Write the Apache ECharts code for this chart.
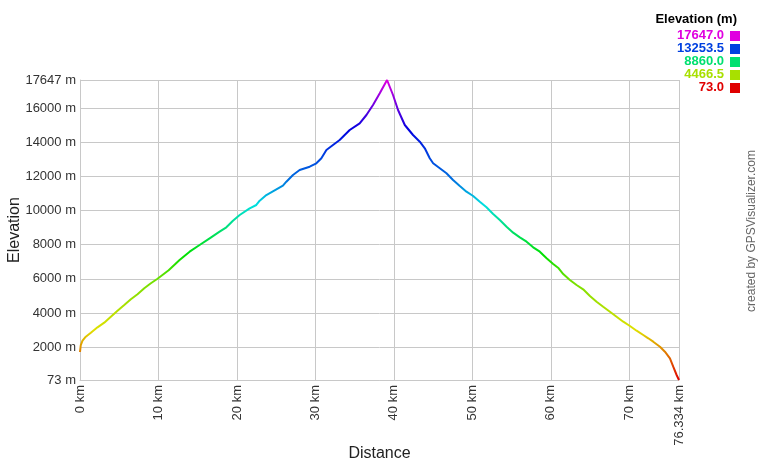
<!DOCTYPE html>
<html>
<head>
<meta charset="utf-8">
<script src="https://cdn.jsdelivr.net/npm/echarts@6/dist/echarts.min.js"></script>
<style>html,body{margin:0;padding:0;background:#fff}#c{width:760px;height:460px}</style>
</head>
<body>
<div id="c"></div>
<script>
const distanceKm = [0, 0.10, 0.32, 0.74, 1.38, 2.23, 3.09, 3.93, 4.78, 5.64, 6.48, 7.33, 8.19, 9.03, 9.88, 11.3, 12.69, 13.97, 15.24, 16.52, 17.79, 18.65, 19.49, 20.35, 21.62, 22.47, 22.9, 23.75, 25.86, 26.30, 27.14, 27.99, 29.27, 30.12, 30.76, 31.40, 32.24, 33.09, 34.37, 35.64, 36.50, 37.34, 38.20, 39.13, 39.89, 40.53, 41.39, 42.44, 43.30, 43.94, 44.57, 45.00, 45.85, 46.70, 47.54, 48.40, 49.25, 50.10, 50.95, 51.80, 52.65, 53.50, 54.36, 55.20, 56.05, 56.91, 57.75, 58.60, 59.46, 60.30, 61.0, 61.58, 62.43, 63.28, 64.12, 64.98, 65.83, 66.67, 67.53, 68.38, 69.23, 70.08, 70.93, 71.78, 72.42, 73.05, 73.91, 74.54, 75.18, 75.60, 76.03, 76.334];
const elevationM = [1713, 2123, 2375, 2610, 2844, 3160, 3430, 3781, 4133, 4467, 4800, 5093, 5445, 5738, 6007, 6500, 7103, 7589, 7981, 8374, 8760, 9018, 9405, 9739, 10131, 10325, 10576, 10910, 11455, 11689, 12082, 12375, 12568, 12767, 13060, 13546, 13839, 14132, 14718, 15110, 15597, 16183, 16868, 17647, 16768, 15890, 15011, 14425, 14033, 13646, 13060, 12767, 12474, 12181, 11789, 11438, 11104, 10852, 10518, 10190, 9797, 9446, 9053, 8702, 8432, 8175, 7847, 7589, 7202, 6868, 6616, 6282, 5931, 5638, 5386, 4994, 4660, 4367, 4074, 3781, 3488, 3236, 2961, 2709, 2516, 2317, 2024, 1731, 1344, 852, 366, 73];
const yTicks = [73, 2000, 4000, 6000, 8000, 10000, 12000, 14000, 16000, 17647];
const xTicks = [0, 10, 20, 30, 40, 50, 60, 70, 76.334];
const legendValues = ['17647.0', '13253.5', '8860.0', '4466.5', '73.0'];
const legendColors = ['#e000e0', '#0040e0', '#00e070', '#a8e000', '#e00000'];
const gradientColors = ['#e00000', '#e07000', '#e0e000', '#a8e000', '#70e000', '#00e000', '#00e070', '#00e0e0', '#0070e0', '#0040e0', '#0000e0', '#7000e0', '#e000e0'];

const font = 'Arial, "Liberation Sans", sans-serif';
const chart = echarts.init(document.getElementById('c'), null, {renderer: 'canvas'});

const graphics = [{
  type: 'text', right: 23, top: 13,
  style: {text: 'Elevation (m)', font: 'bold 13px ' + font, fill: '#000'}
}];
legendValues.forEach((v, i) => {
  const cy = 36 + i * 13;
  graphics.push({type: 'text', right: 36, top: cy - 7,
    style: {text: v, font: 'bold 13px ' + font, fill: legendColors[i]}});
  graphics.push({type: 'rect', shape: {x: 730, y: cy - 5, width: 10, height: 10},
    style: {fill: legendColors[i]}});
});
graphics.push({type: 'text', x: 752, y: 231, rotation: Math.PI / 2,
  style: {text: 'created by GPSVisualizer.com', font: '12px ' + font, fill: '#666',
    textAlign: 'center', textVerticalAlign: 'middle'}});

chart.setOption({
  animation: false,
  backgroundColor: '#fff',
  grid: {left: 80, right: 81, top: 80, bottom: 80, containLabel: false, outerBoundsMode: 'none'},
  xAxis: {
    type: 'value', min: 0, max: 76.334,
    name: 'Distance', nameLocation: 'middle', nameGap: 66, nameMoveOverlap: false,
    nameTextStyle: {fontFamily: font, fontSize: 16, color: '#222'},
    axisLine: {show: true, lineStyle: {color: '#c8c8c8'}},
    axisTick: {show: false, customValues: xTicks},
    axisLabel: {customValues: xTicks, rotate: 90, margin: 5, fontFamily: font, fontSize: 13, color: '#333',
      formatter: v => v + ' km'},
    splitLine: {show: true, lineStyle: {color: '#c8c8c8', width: 1}}
  },
  yAxis: {
    type: 'value', min: 73, max: 17647,
    name: 'Elevation', nameLocation: 'middle', nameGap: 57, nameMoveOverlap: false,
    nameTextStyle: {fontFamily: font, fontSize: 16, color: '#222'},
    axisLine: {show: true, lineStyle: {color: '#c8c8c8'}},
    axisTick: {show: false, customValues: yTicks},
    axisLabel: {customValues: yTicks, margin: 4, fontFamily: font, fontSize: 13, color: '#333',
      formatter: v => v + ' m'},
    splitLine: {show: true, lineStyle: {color: '#c8c8c8', width: 1}}
  },
  visualMap: {
    show: false, type: 'continuous', dimension: 1, min: 73, max: 17647,
    inRange: {color: gradientColors}
  },
  series: [{
    type: 'line', showSymbol: false, smooth: false,
    data: distanceKm.map((d, i) => [d, elevationM[i]]),
    lineStyle: {width: 2}
  }],
  graphic: graphics
});
</script>
</body>
</html>
